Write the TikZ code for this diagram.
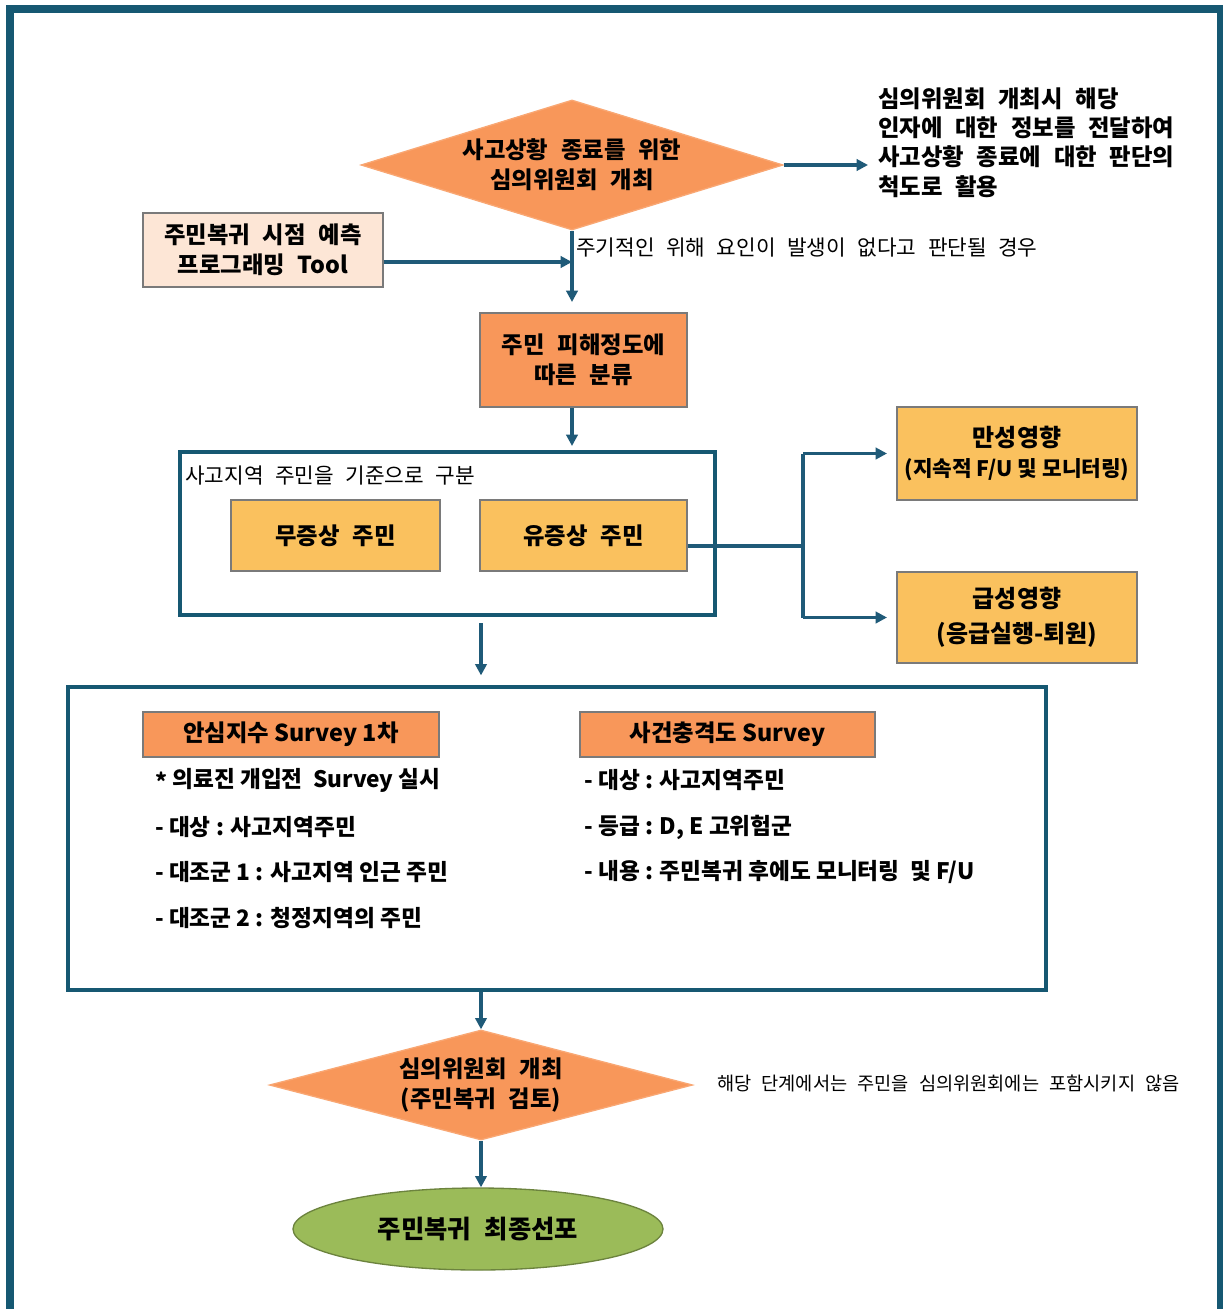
\documentclass[tikz,border=0pt]{standalone}
\usepackage{fontspec}
\setmainfont[WordSpace=2.4]{Noto Sans CJK KR}
\newfontfamily\krn{Noto Sans CJK KR}
\usetikzlibrary{shapes.geometric,arrows.meta}
\definecolor{framec}{HTML}{165872}
\definecolor{arrowc}{HTML}{1F5A78}
\definecolor{orng}{HTML}{F8975A}
\definecolor{yel}{HTML}{FAC15E}
\definecolor{peach}{HTML}{FDE6D6}
\definecolor{grn}{HTML}{9BBB59}
\definecolor{edgec}{HTML}{7A7A7A}
\begin{document}
\begin{tikzpicture}[x=0.75pt,y=-0.75pt,
  every node/.style={font=\fontsize{17.5}{22.5}\selectfont\bfseries, text=black, inner sep=0pt, align=center},
  sz/.style 2 args={minimum width={#1*0.75pt}, minimum height={#2*0.75pt}},
  arr/.style={draw=arrowc, line width=2.5pt, -{Triangle[length=8.5pt,width=8.5pt]}},
  ln/.style={draw=arrowc, line width=2.5pt},
  rbox/.style={rectangle, draw=edgec, line width=1pt},
  grpbox/.style={rectangle, draw=framec, line width=2.4pt},
  plain/.style={font=\fontsize{16}{20}\selectfont},
  item/.style={anchor=west, font=\krn\fontsize{17}{20}\selectfont\bfseries},
]
\useasboundingbox (0,0) rectangle (1223,1309);
\fill[white] (0,0) rectangle (1223,1309);
% outer frame
\draw[framec, line width=6pt] (10,1320) -- (10,9) -- (1221,9) -- (1221,1320);

% top diamond
\node[diamond, aspect=3.2, fill=orng, draw=orng!85!white, line width=1pt, sz={422}{130}] (d1) at (572,165) {사고상황 종료를 위한\\심의위원회 개최};
\node[anchor=west, align=left, font=\fontsize{17.5}{22.1}\selectfont\bfseries] (note) at (878,142.5) {심의위원회 개최시 해당\\인자에 대한 정보를 전달하여\\사고상황 종료에 대한 판단의\\척도로 활용};
\coordinate (n1) at (868,165);
\draw[arr] (d1.east) -- (n1);

% tool box
\node[rbox, fill=peach, sz={240}{74}] (tool) at (263,250) {주민복귀 시점 예측\\프로그래밍 Tool};
\coordinate (j1) at (572,262);
\draw[arr] (tool.east |- j1) -- (j1);
\node[plain, anchor=west] (lbl) at (576,248) {주기적인 위해 요인이 발생이 없다고 판단될 경우};

% classification
\node[rbox, fill=orng, sz={207}{94}] (b2) at (583.5,360) {주민 피해정도에\\따른 분류};
\coordinate (a1) at (572,302);
\draw[arr] (d1.south) -- (a1);
\coordinate (a2) at (572,446);
\draw[arr] (b2.south -| a1) -- (a2);

% group box
\node[grpbox, sz={535}{163}] (grp) at (447.5,533.5) {};
\node[anchor=west, font=\fontsize{16}{20}\selectfont] (glbl) at (185,476) {사고지역 주민을 기준으로 구분};
\node[rbox, fill=yel, sz={209}{71}] (mu) at (335.5,535.5) {무증상 주민};
\node[rbox, fill=yel, sz={207}{71}] (yu) at (583.5,535.5) {유증상 주민};

% effects
\node[rbox, fill=yel, sz={240}{93}, font=\krn\fontsize{18}{22.5}\selectfont\bfseries] (chron) at (1017,453.5) {만성영향\\{\fontsize{16}{22.5}\selectfont (지속적 F/U 및 모니터링)}};
\node[rbox, fill=yel, font=\krn\fontsize{18}{26}\selectfont\bfseries, sz={240}{91}] (acute) at (1017,617.5) {급성영향\\(응급실행-퇴원)};
\coordinate (split) at (803,546);
\draw[ln] (yu.east |- split) -- (split);
\draw[ln] (split |- chron.west) -- (split |- acute.west);
\draw[arr, shorten >=7pt] (split |- chron.west) -- (chron.west);
\draw[arr, shorten >=7pt] (split |- acute.west) -- (acute.west);

% big survey box
\node[grpbox, sz={978}{303}] (big) at (557,838.5) {};
\node[rbox, fill=orng, sz={296}{45}, font=\krn\fontsize{17.5}{20}\selectfont\bfseries] (h1) at (291,734.5) {안심지수 Survey 1차};
\node[rbox, fill=orng, sz={295}{45}, font=\krn\fontsize{17.5}{20}\selectfont\bfseries] (h2) at (727.5,734.5) {사건충격도 Survey};
\node[item] (l1) at (155,780) {\raisebox{-0.3ex}{*} 의료진 개입전\ \ Survey 실시};
\node[item] (l2) at (155,827) {- 대상 : 사고지역주민};
\node[item] (l3) at (155,872) {- 대조군 1 : 사고지역 인근 주민};
\node[item] (l4) at (155,918) {- 대조군 2 : 청정지역의 주민};
\node[item] (r1) at (584,780) {- 대상 : 사고지역주민};
\node[item] (r2) at (584,827) {- 등급 : D, E 고위험군};
\node[item] (r3) at (584,872) {- 내용 : 주민복귀 후에도 모니터링\ \ 및 F/U};

% second diamond
\node[diamond, aspect=3.6, fill=orng, draw=orng!85!white, line width=1pt, sz={423}{110}] (d2) at (481,1085) {심의위원회 개최\\(주민복귀 검토)};
\node[anchor=west, font=\fontsize{14}{20}\selectfont] (note2) at (717,1083) {해당 단계에서는 주민을 심의위원회에는 포함시키지 않음};

% final ellipse
\node[ellipse, fill=grn, draw=grn!70!black, line width=1pt, sz={370}{82}, font=\fontsize{19}{22}\selectfont\bfseries] (ell) at (478,1229) {주민복귀 최종선포};

% vertical flow
\draw[arr, shorten <=5pt, shorten >=7.5pt] (grp.south -| d2.north) -- (big.north -| d2.north);
\draw[arr] (big.south -| d2.north) -- (d2.north);
\draw[arr] (d2.south) -- (ell.north -| d2.south);
\end{tikzpicture}
\end{document}
